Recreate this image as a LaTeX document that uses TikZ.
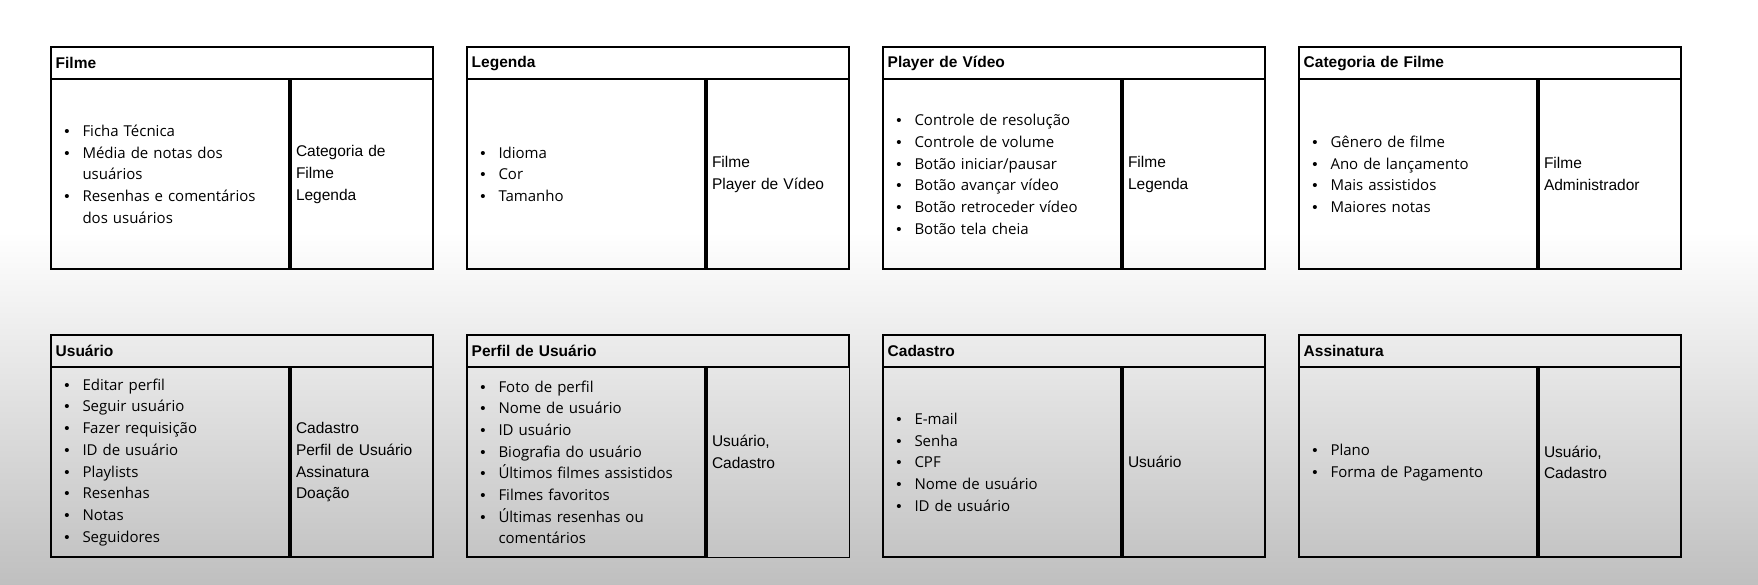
\documentclass[tikz,border=0pt]{standalone}
\usepackage{fontspec}
\setmainfont{Liberation Sans}
\newfontfamily\itemfont{Open Sans}
\newcommand{\bitem}[1]{\makebox[18.2pt][l]{\rmfamily\textbullet}#1}
\newcommand{\bcont}[1]{\hspace*{18.2pt}#1}

\begin{document}
\begin{tikzpicture}[x=1pt,y=-1pt]
    \def\dx{416}
    \def\dy{288}

    \useasboundingbox (0,0) rectangle (1758,585);
    \fill[white] (0,0) rectangle (1758,233);
    \shade[top color=white, bottom color=black!25] (0,232) rectangle (1758,585);

    \tikzstyle{head}=[draw, line width=2pt, outer sep=0pt, anchor=north west, minimum width=382.6pt, minimum height=32pt, inner xsep=5pt, text width=372.6pt, align=left, font=\bfseries\fontsize{15.5}{18}\selectfont]
    \tikzstyle{attr}=[draw, line width=2pt, outer sep=0pt, anchor=north west, minimum width=239.3pt, minimum height=190pt, inner xsep=13.6pt, inner ysep=2pt, text width=212.1pt, align=left, font=\itemfont\fontsize{15}{21.7}\selectfont]
    \tikzstyle{rel}=[draw, line width=2pt, outer sep=0pt, anchor=north west, minimum width=143.3pt, minimum height=190pt, inner xsep=6pt, inner ysep=2pt, text width=131.3pt, align=left, font=\fontsize{15.5}{21.8}\selectfont]

    \node[head]  (filme) at (50.7+0*\dx,47.3+0*\dy) {Filme};
    \node[attr]  (filmeattr) at (filme.south west) {\bitem{Ficha Técnica}\\ \bitem{Média de notas dos}\\ \bcont{usuários}\\ \bitem{Resenhas e comentários}\\ \bcont{dos usuários}};
    \node[rel]   (filmerel) at (filmeattr.north east) {Categoria de\\ Filme\\ Legenda};

    \node[head]  (legenda) at (50.7+1*\dx,47.3+0*\dy) {Legenda};
    \node[attr]  (legendaattr) at (legenda.south west) {\bitem{Idioma}\\ \bitem{Cor}\\ \bitem{Tamanho}};
    \node[rel]   (legendarel) at (legendaattr.north east) {Filme\\ Player de Vídeo};

    \node[head]  (player) at (50.7+2*\dx,47.3+0*\dy) {Player de Vídeo};
    \node[attr]  (playerattr) at (player.south west) {\bitem{Controle de resolução}\\ \bitem{Controle de volume}\\ \bitem{Botão iniciar/pausar}\\ \bitem{Botão avançar vídeo}\\ \bitem{Botão retroceder vídeo}\\ \bitem{Botão tela cheia}};
    \node[rel]   (playerrel) at (playerattr.north east) {Filme\\ Legenda};

    \node[head]  (categoria) at (50.7+3*\dx,47.3+0*\dy) {Categoria de Filme};
    \node[attr]  (categoriaattr) at (categoria.south west) {\bitem{Gênero de filme}\\ \bitem{Ano de lançamento}\\ \bitem{Mais assistidos}\\ \bitem{Maiores notas}};
    \node[rel]   (categoriarel) at (categoriaattr.north east) {Filme\\ Administrador};

    \node[head]  (usuario) at (50.7+0*\dx,47.3+1*\dy) {Usuário};
    \node[attr]  (usuarioattr) at (usuario.south west) {\bitem{Editar perfil}\\ \bitem{Seguir usuário}\\ \bitem{Fazer requisição}\\ \bitem{ID de usuário}\\ \bitem{Playlists}\\ \bitem{Resenhas}\\ \bitem{Notas}\\ \bitem{Seguidores}};
    \node[rel]   (usuariorel) at (usuarioattr.north east) {Cadastro\\ Perfil de Usuário\\ Assinatura\\ Doação};

    \node[head]  (perfil) at (50.7+1*\dx,47.3+1*\dy) {Perfil de Usuário};
    \node[attr]  (perfilattr) at (perfil.south west) {\bitem{Foto de perfil}\\ \bitem{Nome de usuário}\\ \bitem{ID usuário}\\ \bitem{Biografia do usuário}\\ \bitem{Últimos filmes assistidos}\\ \bitem{Filmes favoritos}\\ \bitem{Últimas resenhas ou}\\ \bcont{comentários}};
    \node[rel, line width=0.8pt]   (perfilrel) at (perfilattr.north east) {Usuário,\\ Cadastro\\ \mbox{}};

    \node[head]  (cadastro) at (50.7+2*\dx,47.3+1*\dy) {Cadastro};
    \node[attr]  (cadastroattr) at (cadastro.south west) {\bitem{E-mail}\\ \bitem{Senha}\\ \bitem{CPF}\\ \bitem{Nome de usuário}\\ \bitem{ID de usuário}};
    \node[rel]   (cadastrorel) at (cadastroattr.north east) {Usuário};

    \node[head]  (assinatura) at (50.7+3*\dx,47.3+1*\dy) {Assinatura};
    \node[attr]  (assinaturaattr) at (assinatura.south west) {\bitem{Plano}\\ \bitem{Forma de Pagamento}};
    \node[rel]   (assinaturarel) at (assinaturaattr.north east) {Usuário,\\ Cadastro};


    \tikzstyle{divider} = [draw=black, line width=3.5pt]

          \draw [divider] (filmeattr.north east) -- (filmeattr.south east);
          \draw [divider] (legendaattr.north east) -- (legendaattr.south east);
          \draw [divider] (playerattr.north east) -- (playerattr.south east);
          \draw [divider] (categoriaattr.north east) -- (categoriaattr.south east);
          \draw [divider] (usuarioattr.north east) -- (usuarioattr.south east);
          \draw [divider] (perfilattr.north east) -- (perfilattr.south east);
          \draw [divider] (cadastroattr.north east) -- (cadastroattr.south east);
          \draw [divider] (assinaturaattr.north east) -- (assinaturaattr.south east);
\end{tikzpicture}
\end{document}
